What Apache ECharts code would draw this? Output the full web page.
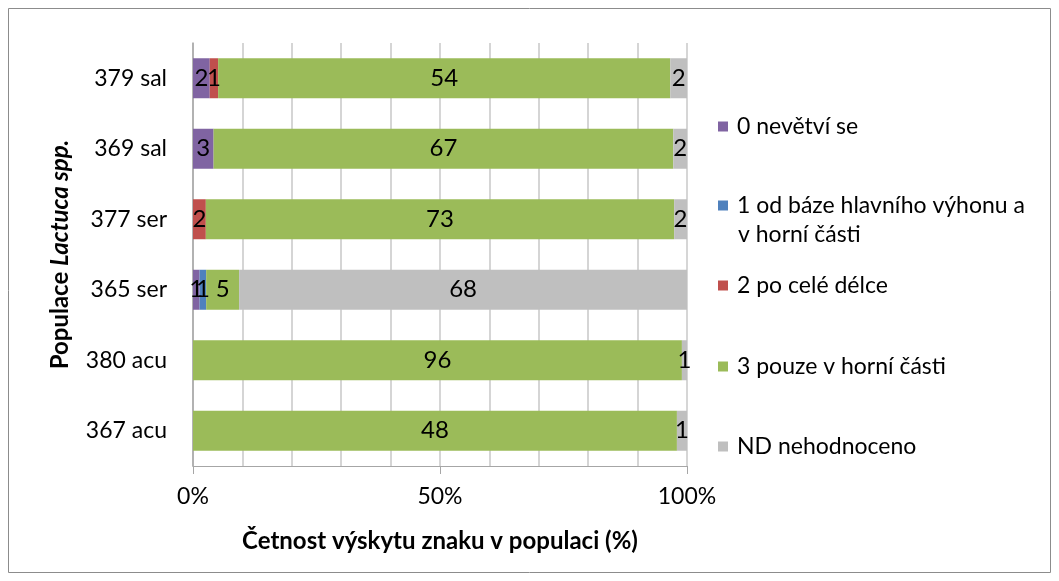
<!DOCTYPE html>
<html>
<head>
<meta charset="utf-8">
<script src="https://cdn.jsdelivr.net/npm/echarts@6/dist/echarts.min.js"></script>
<style>
  html, body { margin: 0; padding: 0; background: #fff; }
  #chart { width: 1059px; height: 581px; }
</style>
</head>
<body>
<div id="chart"></div>
<script>
// categories, top to bottom
const populations = ['379 sal', '369 sal', '377 ser', '365 ser', '380 acu', '367 acu'];

// counts per class (labels show counts, bars show share of population)
const branch0 = [2, 3, 0, 1, 0, 0];
const branch1 = [0, 0, 0, 1, 0, 0];
const branch2 = [1, 0, 2, 0, 0, 0];
const branch3 = [54, 67, 73, 5, 96, 48];
const notRated = [2, 2, 2, 68, 1, 1];

const seriesNames = ['0 nevětví se', '1 od báze hlavního výhonu a', '2 po celé délce', '3 pouze v horní části', 'ND nehodnoceno'];
const seriesCounts = [branch0, branch1, branch2, branch3, notRated];
const colors = ['#8064a2', '#4f81bd', '#c0504d', '#9bbb59', '#bfbfbf'];

const FONT = 'Lato';
const FS = 23;

const totals = populations.map((p, i) => seriesCounts.reduce((s, arr) => s + arr[i], 0));

const chart = echarts.init(document.getElementById('chart'));

const series = seriesNames.map((name, k) => ({
  name: name,
  type: 'bar',
  stack: 'all',
  barWidth: 40,
  itemStyle: { color: colors[k] },
  data: seriesCounts[k].map((v, i) => v / totals[i] * 100),
  label: {
    show: true,
    position: 'inside',
    color: '#000',
    fontFamily: FONT,
    fontSize: 24,
    formatter: (p) => {
      const c = seriesCounts[k][p.dataIndex];
      return c === 0 ? '' : String(c);
    }
  },
  emphasis: { disabled: true }
}));

// one legend per item so the spacing follows the original
const legendTops = [110, 189, 269, 350, 430];
const legends = seriesNames.map((name, k) => ({
  data: [name],
  left: 713,
  top: legendTops[k],
  orient: 'vertical',
  icon: 'rect',
  itemWidth: 10,
  itemHeight: 10,
  selectedMode: false,
  textStyle: { fontFamily: FONT, fontSize: FS, color: '#000', padding: [0, 0, 0, 4] }
}));

const option = {
  animation: false,
  backgroundColor: '#fff',
  legend: legends,
  grid: { left: 193, right: 372, top: 43, bottom: 115 },
  xAxis: {
    type: 'value',
    min: 0,
    max: 100,
    interval: 50,
    axisLine: { show: true, lineStyle: { color: '#a6a6a6', width: 1 } },
    axisTick: { show: true, length: 8, lineStyle: { color: '#a6a6a6' } },
    axisLabel: {
      fontFamily: FONT, fontSize: FS, color: '#000', margin: 19,
      formatter: (v) => v + '%'
    },
    splitLine: { show: true, lineStyle: { color: '#c8c8c8', width: 1.5 } },
    minorTick: { show: false, splitNumber: 5 },
    minorSplitLine: { show: true, lineStyle: { color: '#c8c8c8', width: 1.5 } },
    name: 'Četnost výskytu znaku v populaci (%)',
    nameLocation: 'middle',
    nameGap: 63,
    nameTextStyle: { fontFamily: FONT, fontSize: 24, fontWeight: 'bold', color: '#000' }
  },
  yAxis: {
    type: 'category',
    data: populations,
    inverse: true,
    axisLine: { show: true, lineStyle: { color: '#a6a6a6', width: 1.5 } },
    axisTick: { show: false },
    axisLabel: { fontFamily: FONT, fontSize: FS, color: '#000', margin: 26 },
    name: '{b|Populace }{i|Lactuca spp.}',
    nameLocation: 'middle',
    nameGap: 121,
    nameRotate: 90,
    nameTextStyle: {
      rich: {
        b: { fontFamily: FONT, fontSize: 24, fontWeight: 'bold', color: '#000' },
        i: { fontFamily: FONT, fontSize: 24, fontWeight: 'bold', fontStyle: 'italic', color: '#000' }
      }
    }
  },
  series: series,
  graphic: [
    {
      type: 'rect',
      shape: { x: 8.5, y: 8.5, width: 1042, height: 564 },
      style: { fill: null, stroke: '#8c8c8c', lineWidth: 1 },
      silent: true
    },
    {
      type: 'text',
      left: 738,
      top: 223,
      style: { text: 'v horní části', fontFamily: FONT, fontSize: FS, fill: '#000' },
      silent: true
    }
  ]
};

chart.setOption(option);
</script>
</body>
</html>
